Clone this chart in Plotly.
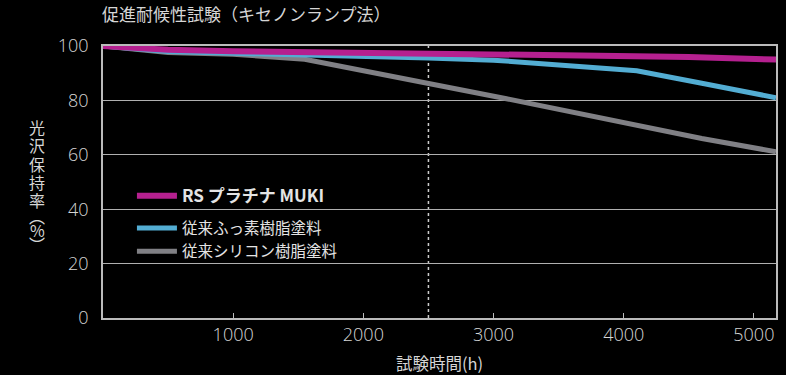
import plotly.graph_objects as go

hours_rs = [0, 500, 1000, 1500, 2000, 2500, 3000, 3500, 4000, 4500, 5170]
rs_muki = [100, 98.6, 98.1, 97.8, 97.4, 97.2, 96.8, 96.6, 96.1, 96.0, 95.0]

hours_fluoro = [0, 500, 1000, 1500, 2000, 2500, 3000, 4100, 4600, 5170]
fluoro = [100, 98.0, 97.3, 96.8, 96.3, 95.6, 94.8, 90.9, 86.3, 81.0]

hours_silicone = [0, 500, 1000, 1550, 3100, 4100, 4600, 5170]
silicone = [100, 97.6, 97.0, 95.1, 80.6, 70.8, 66.0, 61.1]

names = ["<span style='font-size:17px'><b>RS プラチナ MUKI</b></span>",
         "従来ふっ素樹脂塗料", "従来シリコン樹脂塗料"]
colors = ["#B5208F", "#53ADD3", "#808085"]
groups = ["rs", "old", "old"]

x_ticks = [1000, 2000, 3000, 4000, 5000]
y_ticks = [0, 20, 40, 60, 80, 100]

ytitle_chars = ["光", "沢", "保", "持", "率", "︵", "%", "︶"]
ytitle_px = [127, 145, 164, 182, 200, 216, 230, 244]

font = "Noto Sans CJK JP, Noto Sans, sans-serif"
numfont = "Open Sans, Noto Sans, sans-serif"
txt = "#d6d6d6"

top, bottom = 46, 57
H = 375
plot_h = H - top - bottom

fig = go.Figure()
specs = [
    (hours_silicone, silicone, 2, 5),
    (hours_fluoro, fluoro, 1, 5),
    (hours_rs, rs_muki, 0, 6),
]
for xs, ys, i, w in specs:
    fig.add_trace(go.Scatter(x=xs, y=ys, mode="lines", name=names[i],
                             legendgroup=groups[i], legendrank=i + 1,
                             line=dict(color=colors[i], width=w)))

fig.add_shape(type="line", x0=2500, x1=2500, y0=0, y1=100, xref="x", yref="y",
              line=dict(color="#cccccc", width=1.5, dash="dot"), layer="below")

annotations = [
    dict(text="促進耐候性試験（キセノンランプ法）", xref="paper", yref="paper",
         x=-0.005, y=1.0, yshift=18, xanchor="left", yanchor="bottom",
         showarrow=False, font=dict(size=17, color=txt)),
]
for ch, py in zip(ytitle_chars, ytitle_px):
    annotations.append(dict(text=ch, xref="paper", yref="paper",
                            x=(37 - 103) / (786 - 103 - 10), y=(H - bottom - py) / plot_h,
                            xanchor="center", yanchor="middle", showarrow=False,
                            font=dict(size=16, color=txt)))

fig.update_layout(
    width=786, height=375,
    paper_bgcolor="black", plot_bgcolor="black",
    margin=dict(l=103, r=10, t=top, b=bottom),
    font=dict(family=font, color=txt, size=15),
    showlegend=True,
    legend=dict(x=0.043, y=0.51, xanchor="left", yanchor="top",
                bgcolor="rgba(0,0,0,0)", traceorder="grouped",
                font=dict(size=15.5, color="#e4e4e4"), itemwidth=40,
                tracegroupgap=9),
    xaxis=dict(range=[0, 5170], tickvals=x_ticks, showgrid=False, automargin=False,
               showline=True, linecolor="#bbbbbb", linewidth=1.5, mirror=True,
               ticks="inside", ticklen=5, tickcolor="#bbbbbb",
               tickfont=dict(size=18, color=txt, family=numfont, weight=300),
               zeroline=False,
               title=dict(text="試験時間(h)", font=dict(size=16.5, color=txt), standoff=16)),
    yaxis=dict(range=[0, 100], tickvals=y_ticks, showgrid=True, automargin=False,
               gridcolor="#b0b0b0", gridwidth=1,
               showline=True, linecolor="#bbbbbb", linewidth=1.5, mirror=True,
               ticks="", tickfont=dict(size=18, color=txt, family=numfont, weight=300),
               zeroline=False, ticklabelstandoff=9),
    annotations=annotations,
)

fig.write_html("out.html")
